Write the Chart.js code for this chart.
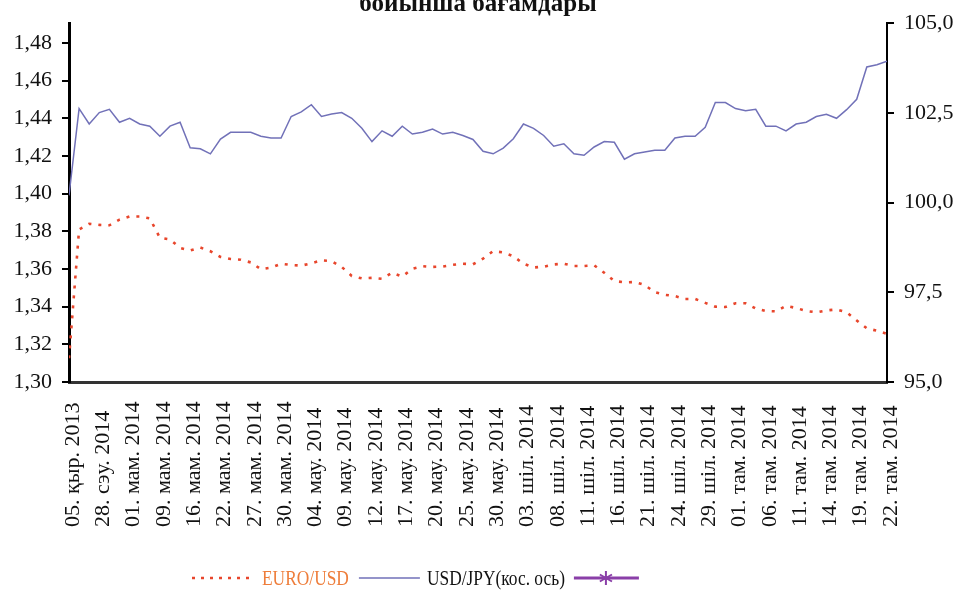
<!DOCTYPE html>
<html>
<head>
<meta charset="utf-8">
<script src="https://cdn.jsdelivr.net/npm/chart.js@4/dist/chart.umd.min.js"></script>
<style>
  html, body { margin: 0; padding: 0; background: #fff; }
  #wrap { width: 959px; height: 590px; position: relative; }
</style>
</head>
<body>
<div id="wrap"><canvas id="chart"></canvas></div>
<script>
// tick labels on the date axis, one every 3 trading days
const dateLabels = [
  '05. қыр. 2013', '28. сэу. 2014', '01. мам. 2014', '09. мам. 2014', '16. мам. 2014',
  '22. мам. 2014', '27. мам. 2014', '30. мам. 2014', '04. мау. 2014', '09. мау. 2014',
  '12. мау. 2014', '17. мау. 2014', '20. мау. 2014', '25. мау. 2014', '30. мау. 2014',
  '03. шіл. 2014', '08. шіл. 2014', '11. шіл. 2014', '16. шіл. 2014', '21. шіл. 2014',
  '24. шіл. 2014', '29. шіл. 2014', '01. там. 2014', '06. там. 2014', '11. там. 2014',
  '14. там. 2014', '19. там. 2014', '22. там. 2014'
];
const labelEvery = 3;

const euroUsd = [
  1.3126, 1.3810, 1.3840, 1.3834, 1.3832, 1.3862, 1.3879, 1.3879, 1.3869, 1.3766,
  1.3757, 1.3712, 1.3698, 1.3714, 1.3694, 1.3664, 1.3653, 1.3649, 1.3635, 1.3599,
  1.3607, 1.3628, 1.3621, 1.3618, 1.3630, 1.3646, 1.3642, 1.3611, 1.3563, 1.3550,
  1.3553, 1.3548, 1.3580, 1.3560, 1.3601, 1.3615, 1.3611, 1.3613, 1.3622, 1.3628,
  1.3625, 1.3655, 1.3695, 1.3688, 1.3668, 1.3628, 1.3608, 1.3612, 1.3624, 1.3628,
  1.3616, 1.3616, 1.3620, 1.3580, 1.3536, 1.3529, 1.3531, 1.3515, 1.3477, 1.3463,
  1.3456, 1.3441, 1.3441, 1.3420, 1.3400, 1.3398, 1.3418, 1.3418, 1.3390, 1.3377,
  1.3375, 1.3404, 1.3393, 1.3377, 1.3370, 1.3380, 1.3385, 1.3370, 1.3327, 1.3285,
  1.3272, 1.3256
];

const usdJpy = [
  100.20, 102.62, 102.19, 102.51, 102.60, 102.24, 102.35, 102.19, 102.13, 101.85,
  102.13, 102.24, 101.53, 101.50, 101.36, 101.77, 101.96, 101.96, 101.96, 101.85,
  101.80, 101.80, 102.40, 102.53, 102.73, 102.40, 102.47, 102.51, 102.35, 102.07,
  101.70, 102.00, 101.85, 102.13, 101.91, 101.96, 102.05, 101.91, 101.96, 101.87,
  101.76, 101.43, 101.36, 101.52, 101.78, 102.19, 102.07, 101.87, 101.57, 101.64,
  101.36, 101.32, 101.55, 101.70, 101.68, 101.21, 101.36, 101.41, 101.46, 101.46,
  101.80, 101.85, 101.85, 102.10, 102.79, 102.79, 102.62, 102.56, 102.60, 102.13,
  102.13, 102.00, 102.19, 102.24, 102.40, 102.46, 102.35, 102.59, 102.88, 103.78,
  103.84, 103.94
];

const leftTicks = [1.30, 1.32, 1.34, 1.36, 1.38, 1.40, 1.42, 1.44, 1.46, 1.48];
const rightTicks = [95, 97.5, 100, 102.5, 105];

const seriesNames = ['EURO/USD', 'USD/JPY', '(кос. ось)'];
const titleText = 'бойынша бағамдары';

const RED = '#e8462c';
const BLUE = '#7171b8';
const PURPLE = '#8a3fa8';
const ORANGE = '#ee7d3a';
const SERIF = '"Liberation Serif", "DejaVu Serif", serif';

const toXY = arr => arr.map((v, i) => ({ x: i, y: v }));
const comma = (v, d) => v.toFixed(d).replace('.', ',');

// title (cut off at the top in the source), rotated date labels and the bottom legend
const decorations = {
  id: 'decorations',
  afterDraw(chart) {
    const ctx = chart.ctx;
    const area = chart.chartArea;
    const cx = (area.left + area.right) / 2;
    ctx.save();
    ctx.fillStyle = '#111';
    ctx.font = 'bold 25px ' + SERIF;
    ctx.textAlign = 'center';
    ctx.textBaseline = 'alphabetic';
    ctx.fillText(titleText, cx, 11);

    // date labels: read upwards, all starting from the same bottom line
    const xs = chart.scales.x;
    ctx.font = '22px ' + SERIF;
    ctx.textAlign = 'left';
    ctx.textBaseline = 'middle';
    dateLabels.forEach((lab, k) => {
      const px = xs.getPixelForValue(k * labelEvery);
      ctx.save();
      ctx.translate(px + 4, 527);
      ctx.rotate(-Math.PI / 2);
      ctx.fillText(lab, 0, 0);
      ctx.restore();
    });

    const y = 578;
    const squeeze = 0.79;
    const text = (str, x, color) => {
      ctx.save();
      ctx.translate(x, y);
      ctx.scale(squeeze, 1);
      ctx.fillStyle = color;
      ctx.fillText(str, 0, 1);
      ctx.restore();
      return x + ctx.measureText(str).width * squeeze;
    };
    const line = (x0, x1, color, w, dash) => {
      ctx.beginPath();
      ctx.setLineDash(dash);
      ctx.strokeStyle = color;
      ctx.lineWidth = w;
      ctx.moveTo(x0, y);
      ctx.lineTo(x1, y);
      ctx.stroke();
      ctx.setLineDash([]);
    };

    line(192, 250, RED, 2.5, [3, 6]);
    let x = text(seriesNames[0], 262, ORANGE);
    line(x + 10, x + 71, BLUE, 1.3, []);
    x = text(seriesNames[1], x + 78, '#111');
    x = text(seriesNames[2], x, '#111');
    line(x + 9, x + 74, PURPLE, 3, []);
    // star marker on the third legend sample
    const sx = x + 41;
    ctx.strokeStyle = PURPLE;
    ctx.lineWidth = 2;
    ctx.beginPath();
    for (let k = 0; k < 3; k++) {
      const a = Math.PI / 2 + k * Math.PI / 3;
      ctx.moveTo(sx - 7 * Math.cos(a), y - 7 * Math.sin(a));
      ctx.lineTo(sx + 7 * Math.cos(a), y + 7 * Math.sin(a));
    }
    ctx.stroke();
    ctx.restore();
  }
};

const tickFont = { family: SERIF, size: 22 };

new Chart(document.getElementById('chart'), {
  type: 'line',
  data: {
    datasets: [
      {
        label: seriesNames[0],
        data: toXY(euroUsd),
        yAxisID: 'y',
        borderColor: RED,
        borderWidth: 2.6,
        borderDash: [3, 7],
        pointRadius: 0,
        tension: 0
      },
      {
        label: seriesNames[1],
        data: toXY(usdJpy),
        yAxisID: 'y1',
        borderColor: BLUE,
        borderWidth: 1.5,
        pointRadius: 0,
        tension: 0
      }
    ]
  },
  options: {
    responsive: true,
    maintainAspectRatio: false,
    animation: false,
    devicePixelRatio: 1,
    layout: { padding: { top: 20, left: 0, right: 0, bottom: 0 } },
    plugins: {
      legend: { display: false },
      tooltip: { enabled: false }
    },
    scales: {
      x: {
        type: 'linear',
        min: 0,
        max: euroUsd.length - 1,
        afterBuildTicks: s => { s.ticks = dateLabels.map((_, k) => ({ value: k * labelEvery })); },
        afterFit: s => { s.height = 208; },
        ticks: { display: false },
        grid: { display: true, drawOnChartArea: false, drawTicks: false },
        border: { display: true, color: '#333', width: 3 }
      },
      y: {
        position: 'left',
        min: 1.30,
        max: 1.4905,
        afterBuildTicks: s => { s.ticks = leftTicks.map(v => ({ value: v })); },
        afterFit: s => { s.width = 69; },
        ticks: {
          callback: v => comma(v, 2),
          font: tickFont,
          color: '#111',
          padding: 10
        },
        grid: { drawOnChartArea: false, tickLength: 7, color: '#000', lineWidth: 2 },
        border: { display: true, color: '#000', width: 3 }
      },
      y1: {
        position: 'right',
        min: 95,
        max: 105,
        afterBuildTicks: s => { s.ticks = rightTicks.map(v => ({ value: v })); },
        afterFit: s => { s.width = 72; },
        ticks: {
          callback: v => comma(v, 1),
          font: tickFont,
          color: '#111',
          padding: 10
        },
        grid: { drawOnChartArea: false, tickLength: 7, color: '#000', lineWidth: 2 },
        border: { display: true, color: '#000', width: 2 }
      }
    }
  },
  plugins: [decorations]
});
</script>
</body>
</html>
